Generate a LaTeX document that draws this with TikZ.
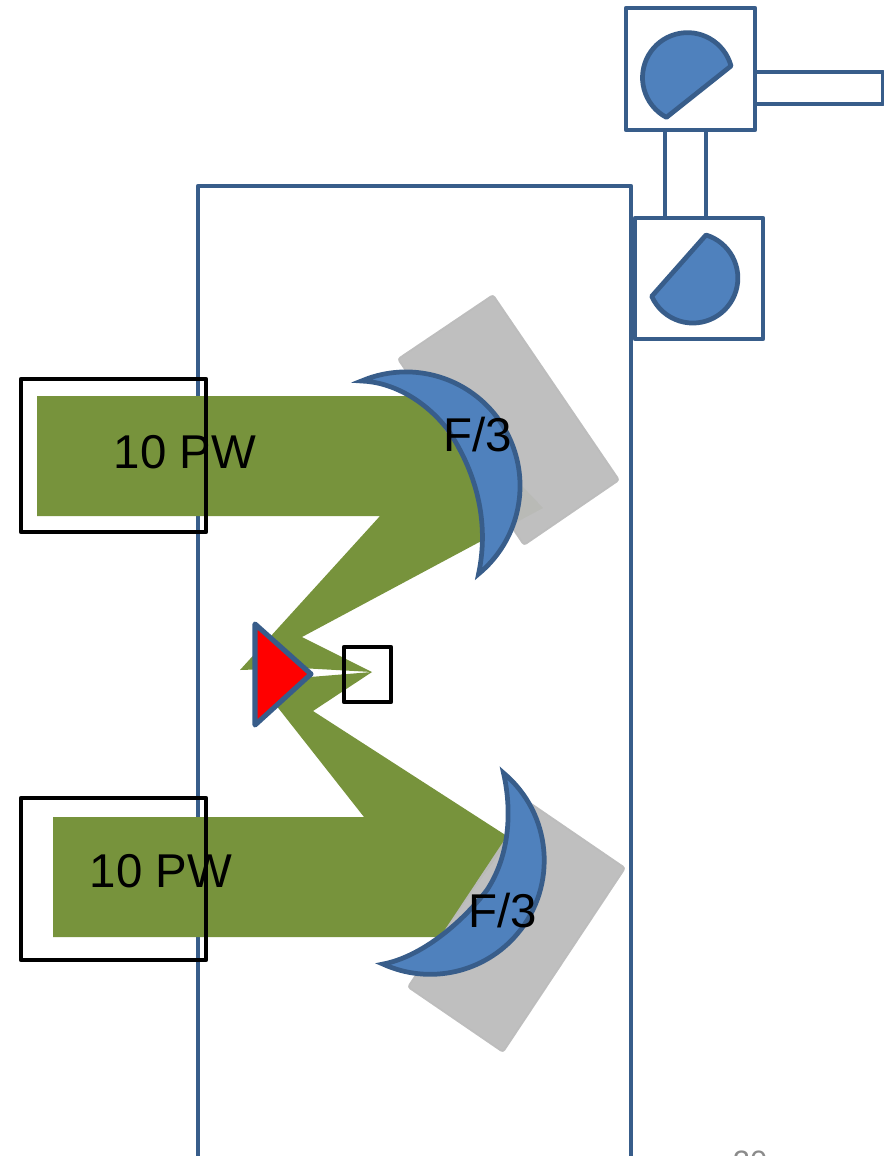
\documentclass[tikz,border=0pt]{standalone}
\usepackage{fontspec}
\setmainfont{Liberation Sans}
\definecolor{FrameBlue}{HTML}{385D8A}
\definecolor{MirrorBlue}{HTML}{4F81BD}
\definecolor{BeamGreen}{HTML}{77933C}
\definecolor{MountGray}{HTML}{BCBCBC}
\definecolor{PageGray}{HTML}{8B8B8B}
\tikzset{
  frameline/.style={draw=FrameBlue, line width=2.7pt, line join=round},
  mirrorshape/.style={draw=FrameBlue, fill=MirrorBlue, line width=2.7pt, line join=miter},
  portshape/.style={draw=FrameBlue, fill=MirrorBlue, line width=2.7pt, line join=round},
  beamshape/.style={fill=BeamGreen},
  mountshape/.style={fill=MountGray, fill opacity=0.96, draw=MountGray, draw opacity=0.96, line width=1pt, rounded corners=1.5pt},
  blackbox/.style={draw=black, line width=2.7pt, line join=round},
  biglabel/.style={font=\fontsize{27}{30}\selectfont, text=black, inner sep=0pt}
}
\begin{document}
\begin{tikzpicture}[x=0.02cm, y=-0.02cm]
  \useasboundingbox (0,0) rectangle (884,1156);
  \clip (0,0) rectangle (884,1156);
  % chamber and ports
  \draw[frameline] (198,186) rectangle (631,1170);
  \draw[frameline, fill=white] (665,130) rectangle (706,218);
  \draw[frameline, fill=white] (755,72) rectangle (883,104);
  \draw[frameline, fill=white] (626,8) rectangle (755,130);
  \draw[frameline, fill=white] (635,218) rectangle (763,339);
  \draw[portshape] (731,66) arc (-15:-242:45) -- cycle;
  \draw[portshape] (706,235) arc (-73:156:45) -- cycle;
  % beams
  \fill[beamshape] (37,396) -- (420,396) -- (523,487) -- (543,508) -- (302,637)
    -- (372,672) -- (300,668) -- (240,670) -- (380,516) -- (37,516) -- cycle;
  \fill[beamshape] (53,817) -- (364,817) -- (268,695) -- (290,682) -- (310,677)
    -- (372,672) -- (313,711) -- (510,838) -- (440,937) -- (53,937) -- cycle;
  % mirror mounts
  \draw[mountshape] (493,295) -- (619,480) -- (524,545) -- (398,359) -- cycle;
  \draw[mountshape] (530,803) -- (625,868) -- (503,1052) -- (408,987) -- cycle;
  % mirrors
  \draw[mirrorshape] (361.5,381) arc (-113:50.5:114)
    .. controls (490,520) and (475,470) .. (448,430)
    .. controls (425,400) and (392,382) .. cycle;
  \draw[mirrorshape] (503.5,773) arc (-50:114.5:114)
    .. controls (420,957) and (460,925) .. (487,890)
    .. controls (510,855) and (512,810) .. cycle;
  % target
  \draw[draw=FrameBlue, fill=red, line width=2.9pt, line join=round] (255,624) -- (311,674) -- (255,725) -- cycle;
  \draw[blackbox] (344,647) rectangle (391,702);
  \draw[blackbox] (21,379) rectangle (206,532);
  \draw[blackbox] (21,798) rectangle (206,960);
  % labels
  \node[biglabel] (powerA) at (185,452) {10 PW};
  \node[biglabel] (powerB) at (161,871) {10 PW};
  \node[biglabel] (focalA) at (478,435) {F/3};
  \node[biglabel] (focalB) at (503,911) {F/3};
  \node[font=\fontsize{17.6}{20}\selectfont, text=PageGray, inner sep=0pt] (pageno) at (750,1162) {20};
\end{tikzpicture}
\end{document}
